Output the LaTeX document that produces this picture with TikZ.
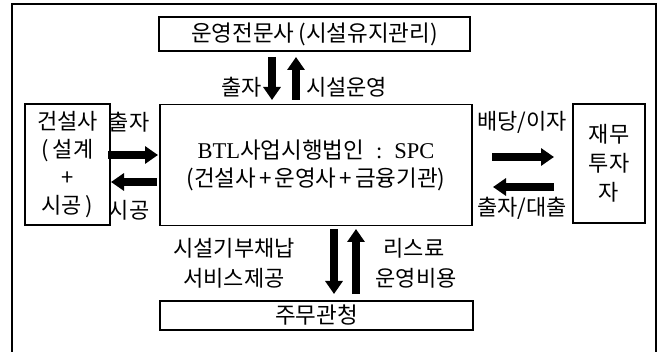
\documentclass[tikz,border=0pt]{standalone}
\usepackage{fontspec}
\setmainfont{Noto Sans CJK KR}
\newfontfamily\lat{Liberation Serif}
\usetikzlibrary{arrows.meta}
\begin{document}
\begin{tikzpicture}[x=1pt,y=-1pt,
  box/.style={draw=black,line width=1.1pt,inner sep=0pt,align=center,font=\fontsize{22.5}{28}\selectfont},
  lbl/.style={inner sep=0pt,font=\fontsize{22}{28}\selectfont,align=center},
  blk/.style={line width=8.5pt,-{Triangle[length=13pt,width=17pt]}},
]
\useasboundingbox (0,0) rectangle (663,352);
% outer frame
\draw[line width=1.1pt] (12,353) -- (12,4) -- (656,4) -- (656,353);

% boxes
\node[box,minimum width=311pt,minimum height=34pt] (ops) at (314.5,34) {운영전문사\,(시설유지관리)};
\node[box,minimum width=312pt,minimum height=121pt] (spc) at (316,165) {{\lat BTL}사업시행법인\hspace{12pt}{\lat :}\hspace{12pt}{\lat SPC}\\(건설사\hspace{3pt}+\hspace{3pt}운영사\hspace{3pt}+\hspace{3pt}금융기관)};
\node[box,minimum width=85pt,minimum height=121pt,font=\fontsize{22}{28}\selectfont] (con) at (67.5,164.5) {건설사\\(\,설계\\+\\시공\,)};
\node[box,minimum width=72pt,minimum height=119pt,font=\fontsize{22}{29}\selectfont] (inv) at (609,163.5) {재무\\투자\\자};
\node[box,minimum width=313pt,minimum height=29pt] (gov) at (316.5,315.5) {주무관청};

% arrow end points
\coordinate (t1s) at (272,57);  \coordinate (t1e) at (272,100);
\coordinate (t2s) at (296,100); \coordinate (t2e) at (296,57);
\coordinate (l1s) at (108,155); \coordinate (l1e) at (158,155);
\coordinate (l2s) at (157,182); \coordinate (l2e) at (111,182);
\coordinate (r1s) at (492,157); \coordinate (r1e) at (554,157);
\coordinate (r2s) at (554,187); \coordinate (r2e) at (493,187);
\coordinate (b1s) at (334,229); \coordinate (b1e) at (334,294);
\coordinate (b2s) at (356,294); \coordinate (b2e) at (356,229);

\draw[blk] (t1s) -- (t1e);
\draw[blk] (t2s) -- (t2e);
\draw[blk] (l1s) -- (l1e);
\draw[blk] (l2s) -- (l2e);
\draw[blk] (r1s) -- (r1e);
\draw[blk] (r2s) -- (r2e);
\draw[blk] (b1s) -- (b1e);
\draw[blk] (b2s) -- (b2e);

% labels
\node[lbl,anchor=east] (lt1) at (262,87) {출자};
\node[lbl,anchor=west] (lt2) at (306,87) {시설운영};
\node[lbl] (ll1) at (129,122) {출자};
\node[lbl] (ll2) at (129,210) {시공};
\node[lbl] (lr1) at (522,122) {배당/이자};
\node[lbl] (lr2) at (522,208) {출자/대출};
\node[lbl] (lb1) at (234,248) {시설기부채납};
\node[lbl] (lb2) at (234,278) {서비스제공};
\node[lbl] (lb3) at (414,248) {리스료};
\node[lbl] (lb4) at (416,278) {운영비용};
\end{tikzpicture}
\end{document}
